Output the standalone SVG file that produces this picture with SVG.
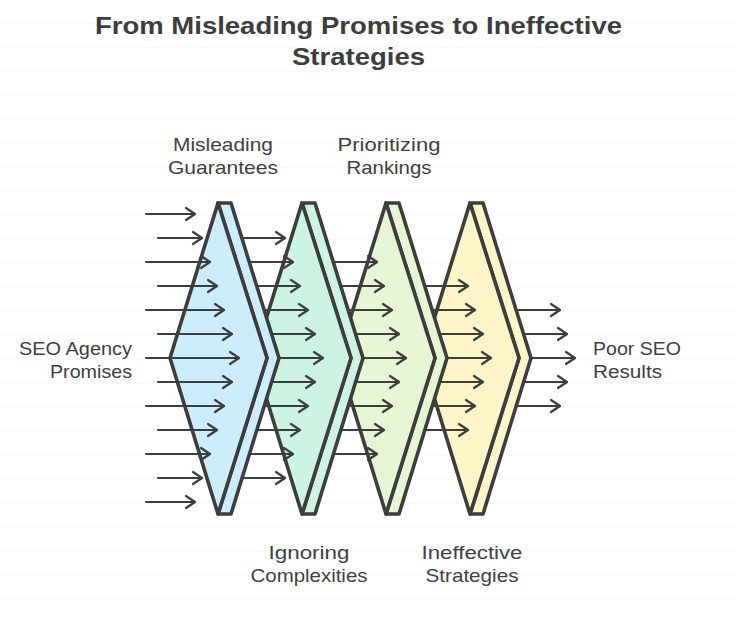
<svg xmlns="http://www.w3.org/2000/svg" width="736" height="622" viewBox="0 0 736 622">
<defs>
<marker id="ah" markerUnits="userSpaceOnUse" markerWidth="14" markerHeight="16" viewBox="0 0 14 16" refX="12" refY="8" orient="auto">
<path d="M3,2 L12,8 L3,14" fill="none" stroke="#3d3d3d" stroke-width="2.2" stroke-linecap="round" stroke-linejoin="round"/>
</marker>
<pattern id="ruled" width="736" height="24" patternUnits="userSpaceOnUse" y="11">
<line x1="0" y1="12" x2="736" y2="12" stroke="#f5f5f5" stroke-width="1.2"/>
</pattern>
</defs>
<style>
.bg{fill:url(#ruled)}
.face{stroke:#3d3d3d;stroke-width:3.6;stroke-linejoin:round}
.d1{fill:#cbedfc}.d2{fill:#cdf4e3}.d3{fill:#e6f5d4}.d4{fill:#fcf5c8}
.arr line{stroke:#3d3d3d;stroke-width:2.2;stroke-linecap:round;marker-end:url(#ah)}
.lbl{font-family:"Liberation Sans",Arial,sans-serif;font-size:19px;fill:#404040}
.title{font-family:"Liberation Sans",Arial,sans-serif;font-size:23px;font-weight:bold;fill:#3d3d3d}
</style>
<rect width="736" height="622" fill="#ffffff"/>
<rect width="736" height="622" class="bg"/>

<g id="connectors">
<g id="arrows-out" class="arr">
<line x1="492" y1="310" x2="560" y2="310"/>
<line x1="492" y1="334" x2="567" y2="334"/>
<line x1="492" y1="358" x2="575" y2="358"/>
<line x1="492" y1="382" x2="567" y2="382"/>
<line x1="492" y1="406" x2="560" y2="406"/>
</g>
</g>

<g id="stage4">
<polygon class="face d4" points="470,203 483,203 531,358 483,514 470,514 519,358"/>
<polygon class="face d4" points="470,203 519,358 470,514 422,358"/>
</g>

<g id="arrows-3" class="arr">
<line x1="408" y1="286" x2="468" y2="286"/>
<line x1="408" y1="310" x2="475" y2="310"/>
<line x1="408" y1="334" x2="483" y2="334"/>
<line x1="408" y1="358" x2="491" y2="358"/>
<line x1="408" y1="382" x2="483" y2="382"/>
<line x1="408" y1="406" x2="475" y2="406"/>
<line x1="408" y1="430" x2="468" y2="430"/>
</g>

<g id="stage3">
<polygon class="face d3" points="386,203 399,203 447,358 399,514 386,514 435,358"/>
<polygon class="face d3" points="386,203 435,358 386,514 338,358"/>
</g>

<g id="arrows-2" class="arr">
<line x1="312" y1="262" x2="377" y2="262"/>
<line x1="312" y1="286" x2="384" y2="286"/>
<line x1="312" y1="310" x2="392" y2="310"/>
<line x1="312" y1="334" x2="399" y2="334"/>
<line x1="312" y1="358" x2="406" y2="358"/>
<line x1="312" y1="382" x2="399" y2="382"/>
<line x1="312" y1="406" x2="392" y2="406"/>
<line x1="312" y1="430" x2="384" y2="430"/>
<line x1="312" y1="454" x2="377" y2="454"/>
</g>

<g id="stage2">
<polygon class="face d2" points="302,203 315,203 363,358 315,514 302,514 351,358"/>
<polygon class="face d2" points="302,203 351,358 302,514 254,358"/>
</g>

<g id="arrows-1" class="arr">
<line x1="226" y1="238" x2="285" y2="238"/>
<line x1="226" y1="262" x2="293" y2="262"/>
<line x1="226" y1="286" x2="300" y2="286"/>
<line x1="226" y1="310" x2="308" y2="310"/>
<line x1="226" y1="334" x2="315" y2="334"/>
<line x1="226" y1="358" x2="323" y2="358"/>
<line x1="226" y1="382" x2="315" y2="382"/>
<line x1="226" y1="406" x2="308" y2="406"/>
<line x1="226" y1="430" x2="300" y2="430"/>
<line x1="226" y1="454" x2="293" y2="454"/>
<line x1="226" y1="478" x2="285" y2="478"/>
</g>

<g id="stage1">
<polygon class="face d1" points="218,203 231,203 279,358 231,514 218,514 267,358"/>
<polygon class="face d1" points="218,203 267,358 218,514 170,358"/>
</g>

<g id="arrows-in" class="arr">
<line x1="146" y1="214" x2="195" y2="214"/>
<line x1="158" y1="238" x2="202" y2="238"/>
<line x1="146" y1="262" x2="210" y2="262"/>
<line x1="158" y1="286" x2="217" y2="286"/>
<line x1="146" y1="310" x2="224" y2="310"/>
<line x1="158" y1="334" x2="232" y2="334"/>
<line x1="146" y1="358" x2="239" y2="358"/>
<line x1="158" y1="382" x2="232" y2="382"/>
<line x1="146" y1="406" x2="224" y2="406"/>
<line x1="158" y1="430" x2="217" y2="430"/>
<line x1="146" y1="454" x2="210" y2="454"/>
<line x1="158" y1="478" x2="202" y2="478"/>
<line x1="146" y1="502" x2="195" y2="502"/>
</g>

<g id="title">
<text class="title" x="358.5" y="34" text-anchor="middle" textLength="527" lengthAdjust="spacingAndGlyphs">From Misleading Promises to Ineffective</text>
<text class="title" x="358.5" y="65" text-anchor="middle" textLength="133" lengthAdjust="spacingAndGlyphs">Strategies</text>
</g>

<g id="label-source">
<text class="lbl" x="132" y="355" text-anchor="end" textLength="113" lengthAdjust="spacingAndGlyphs">SEO Agency</text>
<text class="lbl" x="132" y="378" text-anchor="end" textLength="82" lengthAdjust="spacingAndGlyphs">Promises</text>
</g>
<g id="label-result">
<text class="lbl" x="593" y="355" textLength="88" lengthAdjust="spacingAndGlyphs">Poor SEO</text>
<text class="lbl" x="593" y="378" textLength="69" lengthAdjust="spacingAndGlyphs">Results</text>
</g>
<g id="label-stage1">
<text class="lbl" x="223" y="151" text-anchor="middle" textLength="100" lengthAdjust="spacingAndGlyphs">Misleading</text>
<text class="lbl" x="223" y="174" text-anchor="middle" textLength="110" lengthAdjust="spacingAndGlyphs">Guarantees</text>
</g>
<g id="label-stage2">
<text class="lbl" x="309" y="559" text-anchor="middle" textLength="81" lengthAdjust="spacingAndGlyphs">Ignoring</text>
<text class="lbl" x="309" y="582" text-anchor="middle" textLength="117" lengthAdjust="spacingAndGlyphs">Complexities</text>
</g>
<g id="label-stage3">
<text class="lbl" x="389" y="151" text-anchor="middle" textLength="103" lengthAdjust="spacingAndGlyphs">Prioritizing</text>
<text class="lbl" x="389" y="174" text-anchor="middle" textLength="85" lengthAdjust="spacingAndGlyphs">Rankings</text>
</g>
<g id="label-stage4">
<text class="lbl" x="472" y="559" text-anchor="middle" textLength="101" lengthAdjust="spacingAndGlyphs">Ineffective</text>
<text class="lbl" x="472" y="582" text-anchor="middle" textLength="93" lengthAdjust="spacingAndGlyphs">Strategies</text>
</g>
</svg>
